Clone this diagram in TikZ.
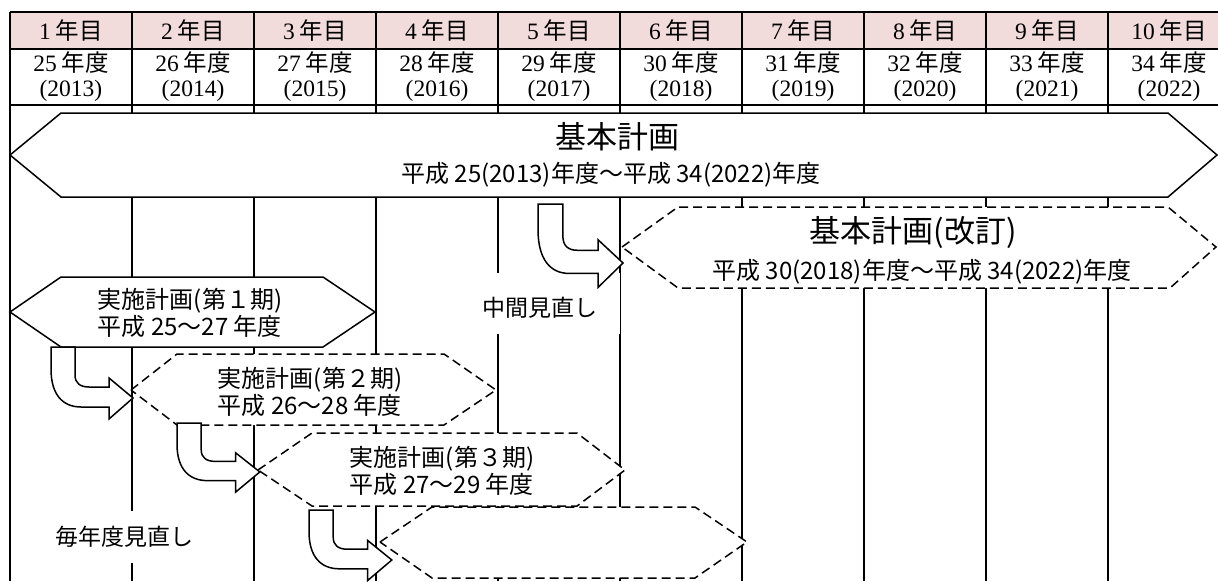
\documentclass[tikz,border=0pt]{standalone}
\usepackage{fontspec}
\setmainfont{Liberation Serif}
\newfontfamily\jp{Noto Sans CJK JP}
\definecolor{hdrpink}{RGB}{242,220,219}
\tikzset{
  tline/.style={line width=1.8pt},
  vline/.style={line width=1.6pt},
  hexsolid/.style={draw, fill=white, line width=1.5pt, line join=miter},
  hexdash/.style={draw, fill=white, line width=1.5pt, dash pattern=on 9pt off 5pt},
  uarrow/.style={draw, fill=white, line width=1.5pt, line join=miter},
  cell/.style={font=\fontsize{23.5}{25}\selectfont, inner sep=0pt, align=center},
  lbl/.style={font=\jp\fontsize{24}{27}\selectfont, inner sep=0pt, align=center},
  note/.style={font=\jp\fontsize{23}{27}\selectfont, inner sep=0pt},
  ttl/.style={font=\jp\fontsize{31}{34}\selectfont, inner sep=0pt},
  bgbox/.style={fill=white, inner sep=0pt},
  pics/uturn/.style={code={
    \draw[uarrow] (0,0) -- (24,0) -- (24,28) .. controls (24,36) and (29,40) .. (38,40)
      -- (58,40) -- (58,31) -- (82,51) -- (58,72) -- (58,60) -- (30,60)
      .. controls (12,60) and (0,48) .. (0,22) -- cycle;}}
}
\begin{document}
\begin{tikzpicture}[x=1pt,y=-1pt]
\clip (0,0) rectangle (1218,581);
% table
\fill[hdrpink] (10,12) rectangle (1230,49);
\foreach \yy in {12,49,105} \draw[tline] (10,\yy) -- (1230,\yy);
\foreach \i in {0,...,10} \draw[tline] ({10+122*\i},12) -- ({10+122*\i},105);
\foreach \i/\n/\ad in {1/25/2013,2/26/2014,3/27/2015,4/28/2016,5/29/2017,6/30/2018,7/31/2019,8/32/2020,9/33/2021,10/34/2022}{
  \node[cell] (h\i) at ({10+122*\i-61},31) {\i\hspace{5pt}{\jp 年目}};
  \node[cell] (y\i) at ({10+122*\i-61},77) {\n\hspace{5pt}{\jp 年度}\\(\ad)};
}
% vertical lines below table
\foreach \i in {0,...,9} \draw[vline] ({10+122*\i},105) -- ({10+122*\i},581);
% white backgrounds for free texts
\node[bgbox, minimum width=150pt, minimum height=61pt] (bgm) at (545,303) {};
\node[bgbox, minimum width=150pt, minimum height=52pt] (bgy) at (124,537) {};
% hexagons
\draw[hexsolid] (10,155) -- (61,113) -- (1168,113) -- (1217,155) -- (1168,197) -- (61,197) -- cycle;
\draw[hexdash] (622,247) -- (678,207) -- (1168,207) -- (1216,247) -- (1170,288) -- (678,288) -- cycle;
\draw[hexsolid] (10,312) -- (61,277) -- (323,277) -- (375,312) -- (323,347) -- (61,347) -- cycle;
\draw[hexdash] (131,390) -- (177,354) -- (444,354) -- (496,390) -- (444,425) -- (177,425) -- cycle;
\draw[hexdash] (258,470) -- (312,433) -- (577,433) -- (625,470) -- (577,506) -- (312,506) -- cycle;
\draw[hexdash] (380,542) -- (432,507) -- (695,507) -- (747,542) -- (695,578) -- (432,578) -- cycle;
% U-turn arrows
\pic at (51,347) {uturn};
\pic[xscale=1.037,yscale=1.157] at (538,204) {uturn};
\pic[xscale=1.01,yscale=0.96] at (177,423) {uturn};
\pic[xscale=1.01,yscale=0.98] at (309,510) {uturn};
% texts
\node[ttl] (t0) at (617,137) {基本計画};
\node[lbl] (s0) at (611,175) {平成 25(2013)年度〜平成 34(2022)年度};
\node[ttl] (t1) at (913,233) {基本計画(改訂)};
\node[lbl] (s1) at (922,272) {平成 30(2018)年度〜平成 34(2022)年度};
\node[lbl] (p1) at (190,313) {実施計画(第１期)\\平成 25〜27 年度};
\node[lbl] (p2) at (310,392) {実施計画(第２期)\\平成 26〜28 年度};
\node[lbl] (p3) at (442,471) {実施計画(第３期)\\平成 27〜29 年度};
\node[note] (mid) at (540,308) {中間見直し};
\node[note] (yr) at (124,537) {毎年度見直し};
\end{tikzpicture}
\end{document}
